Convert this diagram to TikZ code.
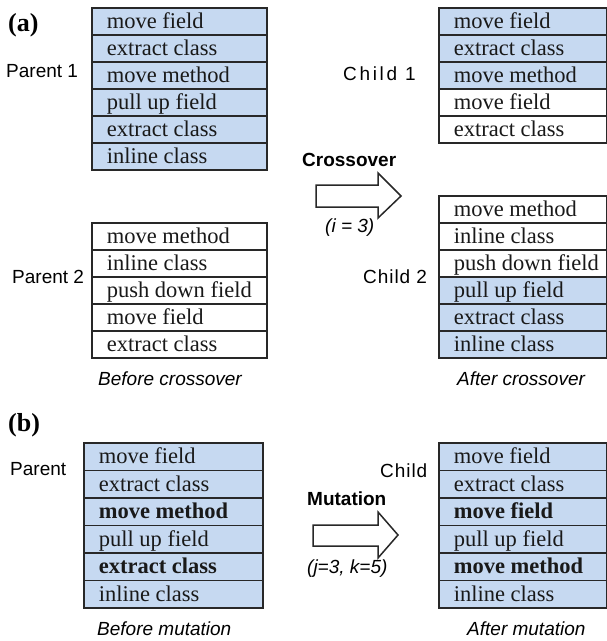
\documentclass[tikz,border=0pt]{standalone}
\usepackage{fontspec}
\setmainfont{Liberation Serif}
\newfontfamily\labelfont{Liberation Sans}
\newfontfamily\spacedlabelfont[LetterSpace=14]{Liberation Sans}
\newfontfamily\looselabelfont[LetterSpace=5]{Liberation Sans}
\definecolor{cellblue}{RGB}{198,217,241}
\definecolor{rowline}{RGB}{40,40,40}

% one column of gene rows: name, x, y, width, row height, {text/fill,...}
\newcommand\rowstack[6]{%
  \foreach \rowtxt/\rowfill [count=\i] in {#6} {
    \node[generow, fill=\rowfill, minimum width=#4pt, minimum height=#5pt]
      (#1-\i) at (#2, {#3+#5*(\i-1)})
      {\makebox[\dimexpr#4pt-30pt\relax][l]{\rowtxt}};
  }%
}

\begin{document}
\begin{tikzpicture}[x=1pt,y=-1pt,
  generow/.style={draw=rowline, line width=1.6pt, anchor=north west,
    inner xsep=15pt, inner ysep=0pt, text height=18pt, text depth=4pt,
    text=black!90, font=\fontsize{22.5}{27}\selectfont},
  lab/.style={font=\labelfont\fontsize{19}{22}\selectfont, anchor=base west, inner sep=0pt},
  caption/.style={lab, font=\labelfont\itshape\fontsize{19}{22}\selectfont},
  oplabel/.style={lab, font=\labelfont\bfseries\fontsize{19}{22}\selectfont},
  panel/.style={font=\bfseries\fontsize{26}{30}\selectfont, anchor=base west, inner sep=0pt},
  blockarrow/.style={draw=rowline, line width=1.5pt, fill=white, line join=miter}
]
\useasboundingbox (0,0) rectangle (607,641);

% ---------- (a) crossover ----------
\node[panel] (pa) at (8,31) {(a)};

\rowstack{pa1}{91}{7}{175}{27}{move field/cellblue, extract class/cellblue,
  move method/cellblue, pull up field/cellblue, extract class/cellblue,
  inline class/cellblue}
\rowstack{pa2}{91}{222}{175}{27}{move method/white, inline class/white,
  push down field/white, move field/white, extract class/white}
\rowstack{ch1}{438}{7}{168}{27}{move field/cellblue, extract class/cellblue,
  move method/cellblue, move field/white, extract class/white}
\rowstack{ch2}{438}{195}{168}{27}{move method/white, inline class/white,
  push down field/white, pull up field/cellblue, extract class/cellblue,
  inline class/cellblue}

\node[lab] (lp1) at (6,77) {Parent 1};
\node[lab] (lp2) at (12,283) {Parent 2};
\node[lab, font=\spacedlabelfont\fontsize{19}{22}\selectfont] (lc1) at (343,80) {Child 1};
\node[lab, font=\looselabelfont\fontsize{19}{22}\selectfont] (lc2) at (363,283) {Child 2};

\node[oplabel] (xo) at (302,166) {Crossover};
\draw[blockarrow] (316,185) -- (378,185) -- (378,173) -- (401,196)
  -- (378,218) -- (378,207) -- (316,207) -- cycle;
\node[caption] (xi) at (325,232) {(i = 3)};

\node[caption] (bc) at (98,385) {Before crossover};
\node[caption] (ac) at (457,385) {After crossover};

% ---------- (b) mutation ----------
\node[panel] (pb) at (8,431) {(b)};

\rowstack{mp}{83}{442}{179}{27.5}{move field/cellblue, extract class/cellblue,
  \textbf{move method}/cellblue, pull up field/cellblue,
  \textbf{extract class}/cellblue, inline class/cellblue}
\rowstack{mc}{438}{442}{168}{27.5}{move field/cellblue, extract class/cellblue,
  \textbf{move field}/cellblue, pull up field/cellblue,
  \textbf{move method}/cellblue, inline class/cellblue}

\node[lab] (lp) at (10,475) {Parent};
\node[lab, font=\looselabelfont\fontsize{19}{22}\selectfont] (lc) at (380,477) {Child};

\node[oplabel] (mu) at (307,505) {Mutation};
\draw[blockarrow] (313,525) -- (378,525) -- (378,512) -- (398,535)
  -- (378,558) -- (378,546) -- (313,546) -- cycle;
\node[caption] (mjk) at (307,573) {(j=3, k=5)};

\node[caption] (bm) at (97,635) {Before mutation};
\node[caption] (am) at (467,635) {After mutation};
\end{tikzpicture}
\end{document}
